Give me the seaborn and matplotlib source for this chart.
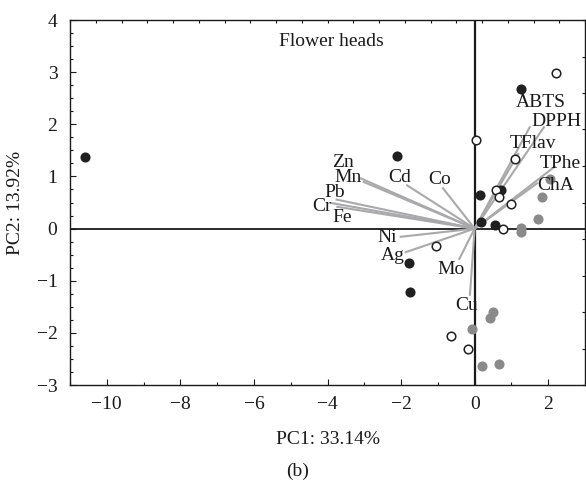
import numpy as np
import pandas as pd
import matplotlib
matplotlib.use("Agg")
import matplotlib.pyplot as plt
import seaborn as sns

# Sample scores on PC1/PC2, by group
g1_x = [-10.6, -2.12, -1.79, -1.77, 0.14, 0.73, 0.16, 0.54, 1.25]
g1_y = [1.37, 1.39, -0.66, -1.22, 0.65, 0.74, 0.12, 0.07, 2.68]
g2_x = [2.2, 0.05, 1.09, 0.58, 0.65, 0.98, 0.77, -1.06, -0.63, -0.19]
g2_y = [2.98, 1.70, 1.33, 0.74, 0.61, 0.47, 0.0, -0.33, -2.06, -2.31]
g3_x = [2.04, 1.84, 1.72, 1.25, 1.25, 0.49, 0.41, -0.07, 0.2, 0.65]
g3_y = [0.95, 0.61, 0.18, 0.01, -0.07, -1.6, -1.72, -1.93, -2.64, -2.6]

# Variable loadings (scaled) and label anchor points
var_names = ["ABTS", "DPPH", "TFlav", "TPhe", "ChA",
             "Zn", "Mn", "Pb", "Cr", "Fe", "Cd", "Co",
             "Ni", "Ag", "Mo", "Cu"]
load_x = [1.51, 1.90, 1.20, 2.20, 1.72,
          -3.12, -3.04, -3.78, -3.89, -3.76, -1.86, -0.88,
          -2.04, -1.90, -0.43, -0.13]
load_y = [1.96, 1.96, 1.45, 1.20, 0.88,
          0.97, 0.90, 0.56, 0.49, 0.42, 0.84, 0.79,
          -0.16, -0.46, -0.60, -1.29]
label_x = [1.79, 2.23, 1.58, 2.34, 2.20,
           -3.59, -3.45, -3.80, -4.16, -3.59, -2.04, -0.95,
           -2.39, -2.23, -0.63, -0.22]
label_y = [2.41, 2.06, 1.64, 1.24, 0.82,
           1.26, 0.97, 0.70, 0.43, 0.22, 0.97, 0.95,
           -0.18, -0.51, -0.79, -1.47]

x_ticks = [-10, -8, -6, -4, -2, 0, 2]
y_ticks = [-3, -2, -1, 0, 1, 2, 3, 4]

sns.set_theme(style="white")
plt.rcParams["font.family"] = ["Liberation Serif", "DejaVu Serif"]

FS = 14
INK = "#1a1a1a"

fig = plt.figure(figsize=(5.86, 4.82), dpi=100)
ax = fig.add_axes([70 / 586, 1 - 385 / 482, 515 / 586, 365 / 482])

# crosshair through the origin
ax.axhline(0, color=INK, lw=1.3, zorder=1)
ax.axvline(0, color=INK, lw=1.6, zorder=1)

# loading vectors
for vx, vy in zip(load_x, load_y):
    ax.plot([0, vx], [0, vy], color="#a9a9ab", lw=1.5, zorder=2,
            solid_capstyle="butt")
for name, tx, ty in zip(var_names, label_x, label_y):
    ax.text(tx, ty, name, ha="center", va="center", fontsize=FS,
            color=INK, zorder=5)

scores = pd.concat([
    pd.DataFrame({"PC1": g1_x, "PC2": g1_y, "group": "A"}),
    pd.DataFrame({"PC1": g2_x, "PC2": g2_y, "group": "B"}),
    pd.DataFrame({"PC1": g3_x, "PC2": g3_y, "group": "C"}),
])
styles = {"A": ("#202020", "#202020"), "B": ("white", "#202020"),
          "C": ("#8a8a8a", "#8a8a8a")}
for grp, (fc, ec) in styles.items():
    sub = scores[scores["group"] == grp]
    sns.scatterplot(data=sub, x="PC1", y="PC2", ax=ax, s=38,
                    color=fc, edgecolor=ec, linewidth=1.1, zorder=4,
                    legend=False)

ax.set_xlim(-11, 3)
ax.set_ylim(-3, 4)
ax.set_xticks(x_ticks)
ax.set_yticks(y_ticks)
ax.set_xticks(np.arange(-11, 3.01, 1), minor=True)
ax.set_yticks(np.arange(-3, 4.01, 0.25), minor=True)
ax.tick_params(axis="both", which="both", direction="in", labelsize=FS,
               colors=INK, width=0.8)
ax.tick_params(which="major", length=4)
ax.tick_params(which="minor", length=2.5)
ax.tick_params(axis="x", which="both", bottom=True, pad=8)
ax.tick_params(axis="y", which="both", left=True, pad=9)
for sp in ax.spines.values():
    sp.set_color(INK)
    sp.set_linewidth(1.0)

# secondary scale ticks along the top and right edges
top = ax.twiny()
top.set_xlim(0, 1)
top.set_xticks(np.linspace(0, 1, 21))
top.tick_params(axis="x", direction="in", length=2.5, width=0.8,
                labeltop=False, colors=INK)
right = ax.twinx()
right.set_ylim(0, 1)
right.set_yticks(np.linspace(0, 1, 11))
right.tick_params(axis="y", direction="in", length=2.5, width=0.8,
                  labelright=False, colors=INK)
for a in (top, right):
    a.grid(False)
    for sp in a.spines.values():
        sp.set_visible(False)

ax.set_xlabel("PC1: 33.14%", fontsize=FS, labelpad=13, color=INK)
ax.set_ylabel("PC2: 13.92%", fontsize=FS, labelpad=9, color=INK)
ax.text(-3.9, 3.58, "Flower heads", ha="center", va="center", fontsize=FS,
        color=INK)
fig.text(298 / 586, 1 - 471 / 482, "(b)", ha="center", va="center",
         fontsize=FS, color=INK)

fig.savefig("out.png", dpi=100)
